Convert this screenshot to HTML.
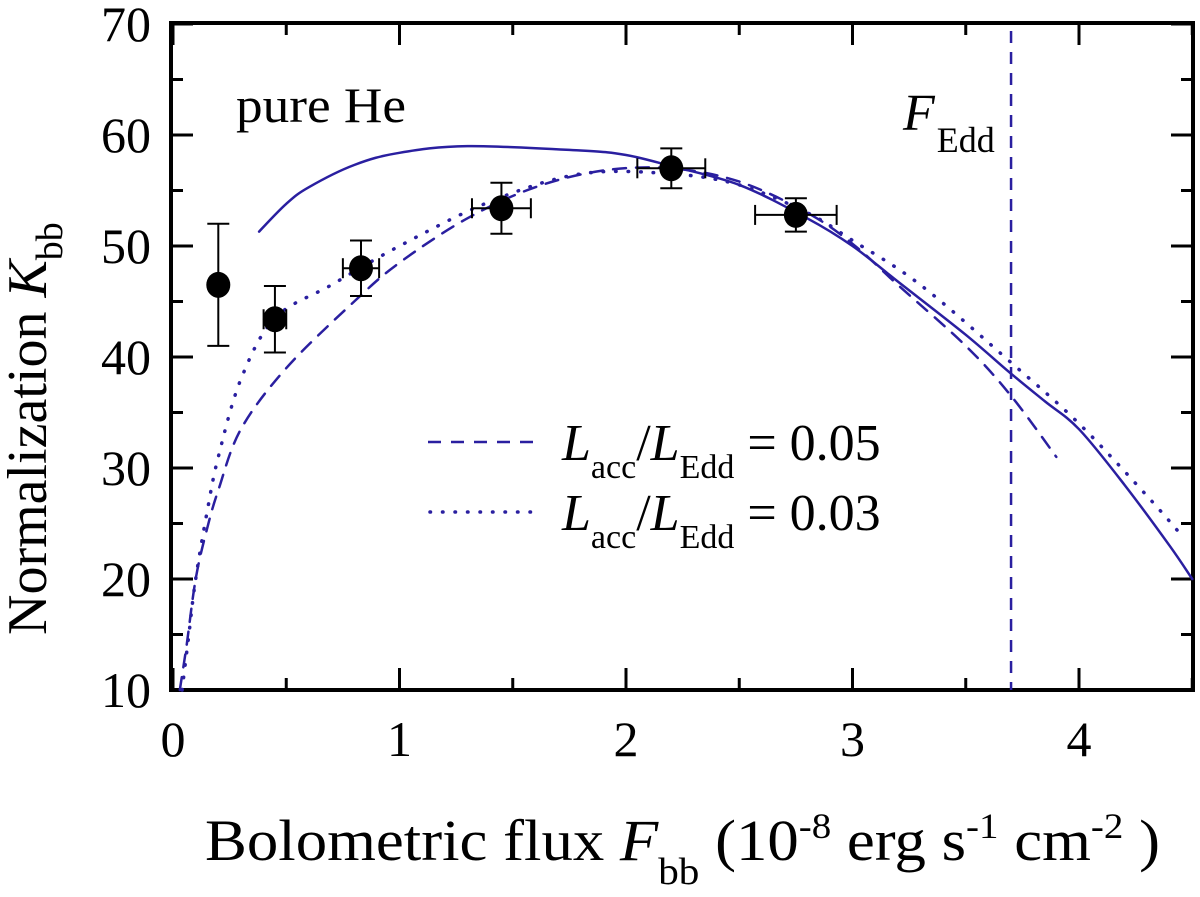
<!DOCTYPE html>
<html><head><meta charset="utf-8"><style>
html,body{margin:0;padding:0;background:#fff;}
svg{display:block;font-family:"Liberation Serif",serif;}
</style></head><body>
<svg id="chart" width="1200" height="897" viewBox="0 0 1200 897" xmlns="http://www.w3.org/2000/svg">
<g id="marks"></g>
</svg>
<script>
const xTicks=[0,1,2,3,4];
const yTicks=[10,20,30,40,50,60,70];
const dataX=[0.2,0.45,0.83,1.45,2.2,2.75];
const dataY=[46.5,43.4,48,53.4,57,52.8];
const dataYErr=[5.5,3,2.5,2.3,1.8,1.5];
const dataXErr=[0.02,0.05,0.08,0.13,0.15,0.18];
const solidX=[0.38,0.5,0.6,0.8,1.0,1.3,1.8,2.0,2.2,2.5,2.8,3.0,3.2,3.5,3.7,3.85,4.0,4.2,4.4,4.5];
const solidY=[51.3,53.8,55.3,57.3,58.4,59,58.6,58.2,57.2,55.5,52.5,50,46.8,42,38.5,36,33.5,28.5,23,20];
const dashX=[0.03,0.06,0.1,0.15,0.2,0.3,0.5,0.8,1.0,1.3,1.6,1.9,2.2,2.5,2.8,3.0,3.2,3.5,3.7,3.9];
const dashY=[10,14,20,24.5,28,33.5,39,45,48.5,52.5,55.3,56.8,57,55.8,53,50.2,46.5,41,36.5,31];
const dotX=[0.04,0.07,0.1,0.15,0.2,0.3,0.45,0.7,1.0,1.4,1.8,2.2,2.5,2.8,3.0,3.3,3.7,4.0,4.3,4.45];
const dotY=[10,15,20,26,31,38,43.5,46.5,50,54,56.5,56.5,55.5,53,50.5,46.5,39.5,34,27.5,24];
const fEdd=3.7;
const X0=173,XS=226.5,Y0=690,YS=11.1;
const sx=v=>X0+v*XS, sy=v=>Y0-(v-10)*YS;
const NS="http://www.w3.org/2000/svg";
const g=document.getElementById('marks');
function mk(t,a,txt){const e=document.createElementNS(NS,t);for(const k in a)e.setAttribute(k,a[k]);if(txt!==undefined)e.textContent=txt;g.appendChild(e);return e;}
const C="#2a1fa0";
let e=mk('rect',{x:171,y:23,width:1022,height:667,fill:'none',stroke:'#000','stroke-width':4});


for(let v=0;v<=4.5;v+=0.5){const maj=Math.abs(v-Math.round(v))<1e-6;const L=maj?22:12;
 e=mk('line',{x1:sx(v),x2:sx(v),y1:Y0,y2:Y0-L,stroke:'#000','stroke-width':3});
 
 
 e=mk('line',{x1:sx(v),x2:sx(v),y1:23,y2:23+L,stroke:'#000','stroke-width':3});
 
 }
for(const v of xTicks){e=mk('text',{x:sx(v),y:756,'font-size':50,'text-anchor':'middle'},String(v));
 
 }
for(let v=10;v<=70;v+=5){const maj=v%10===0;const L=maj?22:12;
 e=mk('line',{x1:171,x2:171+L,y1:sy(v),y2:sy(v),stroke:'#000','stroke-width':3});
 
 
 e=mk('line',{x1:1193,x2:1193-L,y1:sy(v),y2:sy(v),stroke:'#000','stroke-width':3});
 
 }
for(const v of yTicks){e=mk('text',{x:151,y:sy(v)+17,'font-size':50,'text-anchor':'end'},String(v));
 
 }
function path(xs,ys,dash,w,name){
 const P=xs.map((x,i)=>[sx(x),sy(ys[i])]);
 let d='M'+P[0][0].toFixed(1)+' '+P[0][1].toFixed(1);
 for(let i=0;i<P.length-1;i++){const p0=P[Math.max(i-1,0)],p1=P[i],p2=P[i+1],p3=P[Math.min(i+2,P.length-1)];
  const c1=[p1[0]+(p2[0]-p0[0])/6,p1[1]+(p2[1]-p0[1])/6],c2=[p2[0]-(p3[0]-p1[0])/6,p2[1]-(p3[1]-p1[1])/6];
  d+='C'+c1.map(v=>v.toFixed(1)).join(' ')+' '+c2.map(v=>v.toFixed(1)).join(' ')+' '+p2[0].toFixed(1)+' '+p2[1].toFixed(1);}
 const p=mk('path',{d:d,fill:'none',stroke:C,'stroke-width':w,'stroke-dasharray':dash,'stroke-linecap':'round'});
 
 }
path(solidX,solidY,'none',2.5,'model-solid-line');
path(dashX,dashY,'13 10',2.5,'model-dashed-line');
path(dotX,dotY,'0.5 12',3.5,'model-dotted-line');
e=mk('line',{x1:sx(fEdd),x2:sx(fEdd),y1:31,y2:690,stroke:C,'stroke-width':2.5,'stroke-dasharray':'12 9'});


dataX.forEach((x,i)=>{const cx=sx(x),cy=sy(dataY[i]);
 const grp=mk('g',{stroke:'#000','stroke-width':2});
 
 
 const yt=sy(dataY[i]+dataYErr[i]),yb=sy(dataY[i]-dataYErr[i]),xl=sx(x-dataXErr[i]),xr=sx(x+dataXErr[i]);
 const add=(a)=>{const l=document.createElementNS(NS,'line');for(const k in a)l.setAttribute(k,a[k]);grp.appendChild(l);};
 add({x1:cx,x2:cx,y1:yt,y2:yb});add({x1:cx-11,x2:cx+11,y1:yt,y2:yt});add({x1:cx-11,x2:cx+11,y1:yb,y2:yb});
 add({x1:xl,x2:xr,y1:cy,y2:cy});add({x1:xl,x2:xl,y1:cy-10,y2:cy+10});add({x1:xr,x2:xr,y1:cy-10,y2:cy+10});
 const c=document.createElementNS(NS,'ellipse');c.setAttribute('cx',cx);c.setAttribute('cy',cy);c.setAttribute('rx',12);c.setAttribute('ry',13);c.setAttribute('fill','#000');c.setAttribute('stroke','none');grp.appendChild(c);
});
</script>
<svg width="1200" height="897" style="position:absolute;left:0;top:0" xmlns="http://www.w3.org/2000/svg" font-family="Liberation Serif, serif">
<text x="236" y="122" font-size="50" textLength="170" lengthAdjust="spacingAndGlyphs">pure He</text>
<text x="903" y="130" font-size="52"><tspan font-style="italic">F</tspan><tspan font-size="36" dx="2" dy="22">Edd</tspan></text>
<g>
<line x1="428" x2="540" y1="442" y2="442" stroke="#2a1fa0" stroke-width="2.5" stroke-dasharray="13 10"/>
<text x="562" y="460" font-size="52"><tspan font-style="italic">L</tspan><tspan font-size="34" dy="18">acc</tspan><tspan dy="-18">/</tspan><tspan font-style="italic">L</tspan><tspan font-size="34" dy="18">Edd</tspan><tspan dy="-18"> = 0.05</tspan></text>
</g>
<g>
<line x1="430" x2="540" y1="512" y2="512" stroke="#2a1fa0" stroke-width="3.5" stroke-dasharray="0.5 12" stroke-linecap="round"/>
<text x="562" y="530" font-size="52"><tspan font-style="italic">L</tspan><tspan font-size="34" dy="18">acc</tspan><tspan dy="-18">/</tspan><tspan font-style="italic">L</tspan><tspan font-size="34" dy="18">Edd</tspan><tspan dy="-18"> = 0.03</tspan></text>
</g>
<text transform="translate(46,635) rotate(-90)" font-size="56">Normalization <tspan font-style="italic">K</tspan><tspan font-size="38" dy="16">bb</tspan></text>
<text x="205" y="860" font-size="58" textLength="955" lengthAdjust="spacingAndGlyphs">Bolometric flux  <tspan font-style="italic">F</tspan><tspan font-size="38" dy="24">bb</tspan><tspan dy="-24"> (10</tspan><tspan font-size="36" dy="-22">-8</tspan><tspan dy="22"> erg s</tspan><tspan font-size="36" dy="-22">-1</tspan><tspan dy="22"> cm</tspan><tspan font-size="36" dy="-22">-2</tspan><tspan dy="22"> )</tspan></text>
</svg>
</body></html>
